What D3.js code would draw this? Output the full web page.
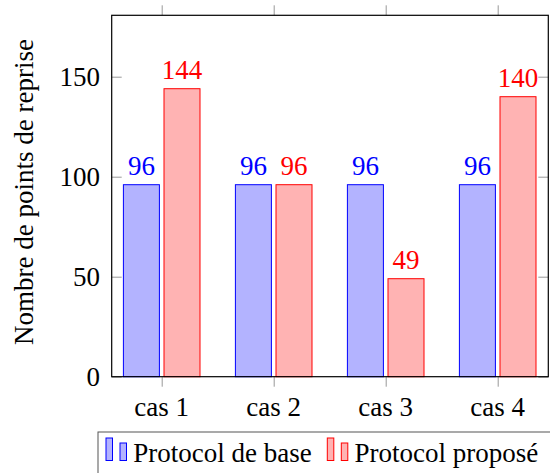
<!DOCTYPE html>
<html><head><meta charset="utf-8">
<script src="https://cdn.jsdelivr.net/npm/d3@7"></script>
<style>body{margin:0;background:#fff}svg{display:block}
.serif{font-family:Liberation Serif}
</style>
</head><body>
<svg id="c" width="550" height="473"></svg>
<script>
const categories = ["cas 1", "cas 2", "cas 3", "cas 4"];
const seriesNames = ["Protocol de base", "Protocol proposé"];
const baseValues = [96, 96, 96, 96];
const proposedValues = [144, 96, 49, 140];
const yTicks = [0, 50, 100, 150];

const L = 111.7, R = 548.3, T = 15.3, B = 376.7;
const fs = 27;
const svg = d3.select("#c");

const x = d3.scalePoint().domain(categories).range([161.7, 497.7]);
const y = d3.scaleLinear().domain([0, (B - T) / 2]).range([B, T]);
const barW = 36, off = 20.3;

const series = [
  {name: seriesNames[0], values: baseValues, fill: "#b3b3ff", stroke: "#0000ff", dx: -off},
  {name: seriesNames[1], values: proposedValues, fill: "#ffb3b3", stroke: "#ff0000", dx: off}
];

function serif(sel) { return sel.attr("class", "serif").attr("font-size", fs); }

// frame and ticks (drawn without d3 axis font attributes)
const tickColor = "#999";
const gy = svg.append("g").attr("transform", `translate(${L},0)`)
  .call(d3.axisLeft(y).tickValues(yTicks).tickSize(-10).tickFormat(""));
gy.select(".domain").remove();
gy.selectAll(".tick line").attr("stroke", tickColor);
const gyr = svg.append("g").attr("transform", `translate(${R},0)`)
  .call(d3.axisRight(y).tickValues(yTicks).tickSize(-10).tickFormat(""));
gyr.select(".domain").remove();
gyr.selectAll(".tick line").attr("stroke", tickColor);
const gx = svg.append("g").attr("transform", `translate(0,${B})`)
  .call(d3.axisBottom(x).tickSize(10).tickFormat(""));
gx.select(".domain").remove();
gx.selectAll(".tick line").attr("stroke", tickColor);
const gxt = svg.append("g").attr("transform", `translate(0,${T})`)
  .call(d3.axisTop(x).tickSize(10).tickFormat(""));
gxt.select(".domain").remove();
gxt.selectAll(".tick line").attr("stroke", tickColor);

// bars
series.forEach(s => {
  svg.append("g").selectAll("rect").data(categories).join("rect")
    .attr("x", (c) => x(c) + s.dx - barW / 2)
    .attr("y", (c, i) => y(s.values[i]))
    .attr("width", barW)
    .attr("height", (c, i) => y(0) - y(s.values[i]))
    .attr("fill", s.fill).attr("stroke", s.stroke).attr("stroke-width", 1);
});

svg.append("rect").attr("x", L).attr("y", T).attr("width", R - L).attr("height", B - T)
  .attr("fill", "none").attr("stroke", "#000").attr("stroke-width", 1.2);

// texts directly under svg
yTicks.forEach(v => {
  svg.append("text").call(serif).attr("x", L - 11.7).attr("y", y(v) + 9)
    .attr("text-anchor", "end").text(v);
});
categories.forEach(c => {
  svg.append("text").call(serif).attr("x", x(c)).attr("y", B + 39)
    .attr("text-anchor", "middle").text(c);
});
series.forEach(s => {
  categories.forEach((c, i) => {
    svg.append("text").call(serif).attr("x", x(c) + s.dx).attr("y", y(s.values[i]) - 10)
      .attr("text-anchor", "middle").attr("fill", s.stroke).text(s.values[i]);
  });
});

svg.append("text").call(serif)
  .attr("transform", `translate(33,${(T + B) / 2 - 4}) rotate(-90)`)
  .attr("text-anchor", "middle")
  .text("Nombre de points de reprise");

// legend
svg.append("rect").attr("x", 98).attr("y", 432).attr("width", 470).attr("height", 60)
  .attr("fill", "#fff").attr("stroke", "#555").attr("stroke-width", 1);
const legX = [106, 327.3];
series.forEach((s, k) => {
  const gx0 = legX[k];
  svg.append("rect").attr("x", gx0).attr("y", 438).attr("width", 6.5).attr("height", 22.5)
    .attr("fill", s.fill).attr("stroke", s.stroke);
  svg.append("rect").attr("x", gx0 + 14).attr("y", 443).attr("width", 6.5).attr("height", 17.5)
    .attr("fill", s.fill).attr("stroke", s.stroke);
  svg.append("text").call(serif).attr("x", gx0 + 27.3).attr("y", 461.7).text(s.name);
});
</script>
</body></html>
